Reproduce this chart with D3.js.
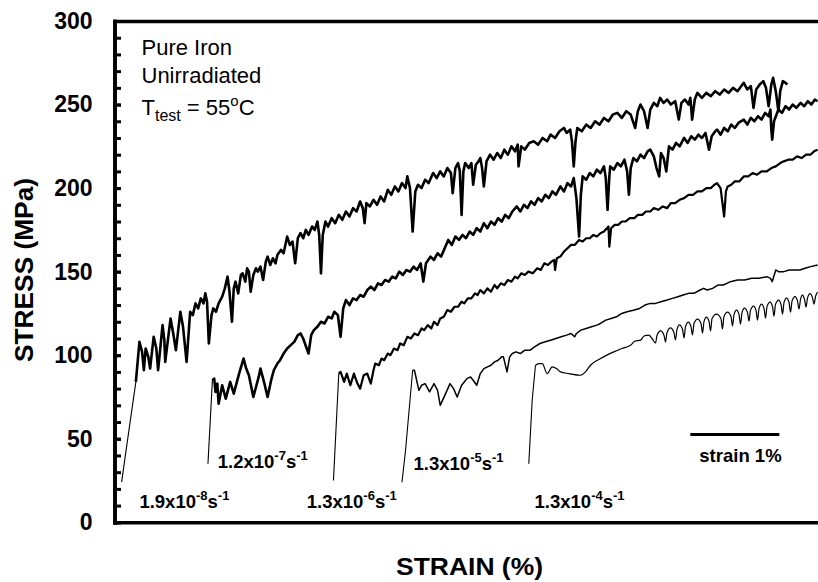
<!DOCTYPE html>
<html>
<head>
<meta charset="utf-8">
<script src="https://cdn.jsdelivr.net/npm/d3@7"></script>
<style>
  body { margin: 0; background: #fff; }
  svg { display: block; font-family: "Liberation Sans", Arial, sans-serif; }
</style>
</head>
<body>
<svg id="chart" width="818" height="582"></svg>
<script>
// stress-strain curves of pure iron, one per strain rate (strain %, MPa)
// curves are shifted along strain so they do not overlap

const rate19e8 = [
  [0.08,24],[0.13,43],[0.24,84],[0.28,108],[0.31,102],[0.33,91],[0.35,104],[0.38,99],[0.40,92],
  [0.44,111],[0.47,104],[0.49,91],[0.54,118],[0.56,109],[0.57,96],[0.63,122],[0.66,113],[0.69,103],
  [0.74,126],[0.77,117],[0.81,96],[0.85,126],[0.88,124],[0.91,131],[0.94,128],[0.97,134],[1.00,131],
  [1.02,137],[1.04,132],[1.06,107],[1.09,124],[1.11,128],[1.14,126],[1.17,131],[1.21,135],[1.24,140],
  [1.27,147],[1.29,139],[1.32,120],[1.34,140],[1.36,144],[1.39,137],[1.42,148],[1.44,149],[1.47,144],
  [1.49,152],[1.51,150],[1.53,138],[1.56,148],[1.59,152],[1.61,150],[1.64,153],[1.67,145],[1.70,156],
  [1.72,159],[1.75,154],[1.78,158],[1.81,155],[1.83,160],[1.87,163],[1.90,161],[1.94,171],[1.97,166],
  [2.00,168],[2.03,155],[2.06,170],[2.09,173],[2.12,170],[2.15,175],[2.18,172],[2.22,177],[2.25,175],
  [2.28,180],[2.30,172],[2.32,149],[2.34,172],[2.37,180],[2.40,177],[2.44,182],[2.48,179],[2.52,184],
  [2.56,181],[2.60,186],[2.64,183],[2.68,188],[2.72,186],[2.76,192],[2.79,188],[2.81,179],[2.83,191],
  [2.87,189],[2.91,193],[2.95,190],[2.99,195],[3.03,192],[3.07,199],[3.11,196],[3.15,201],[3.19,198],
  [3.23,203],[3.27,200],[3.29,207],[3.32,200],[3.35,174],[3.38,198],[3.41,202],[3.45,200],[3.49,205],
  [3.53,203],[3.58,209],[3.62,206],[3.66,210],[3.70,207],[3.74,212],[3.78,209],[3.80,197],[3.83,212],
  [3.86,215],[3.88,210],[3.90,184],[3.92,210],[3.94,215],[3.98,212],[4.01,215],[4.03,202],[4.06,214],
  [4.09,216],[4.11,218],[4.13,212],[4.15,201],[4.18,216],[4.22,220],[4.26,217],[4.30,221],[4.34,218],
  [4.38,223],[4.42,220],[4.46,225],[4.50,222],[4.53,226],[4.54,213],[4.57,225],[4.61,223],[4.66,227],
  [4.71,228],[4.76,226],[4.81,230],[4.86,228],[4.90,232],[4.95,230],[5.00,234],[5.05,236],[5.08,233],
  [5.12,235],[5.14,228],[5.16,213],[5.18,228],[5.20,236],[5.25,234],[5.30,238],[5.35,236],[5.40,240],
  [5.45,238],[5.50,242],[5.55,240],[5.60,244],[5.65,245],[5.70,242],[5.75,246],[5.80,244],[5.85,236],
  [5.88,246],[5.91,250],[5.95,246],[5.99,236],[6.02,247],[6.06,251],[6.10,249],[6.13,254],[6.17,251],
  [6.21,253],[6.25,250],[6.30,252],[6.34,241],[6.37,251],[6.41,253],[6.45,250],[6.47,254],[6.49,241],
  [6.52,253],[6.55,257],[6.60,254],[6.65,257],[6.70,255],[6.75,258],[6.80,256],[6.85,259],[6.90,257],
  [6.95,260],[7.00,258],[7.07,263],[7.11,259],[7.15,261],[7.18,248],[7.21,259],[7.25,262],[7.29,264],
  [7.32,260],[7.35,249],[7.38,262],[7.40,266],[7.43,258],[7.46,246],[7.48,258],[7.51,264],[7.54,263],
  [7.56,262]
];

const rate12e7 = [
  [1.05,35],[1.10,85],[1.12,86],[1.135,78],[1.155,83],[1.17,71],[1.21,82],[1.25,74],[1.30,84],[1.34,77],
  [1.40,89],[1.45,98],[1.48,92],[1.51,88],[1.56,75],[1.62,87],[1.64,92],[1.68,84],[1.72,75],[1.76,85],
  [1.79,91],[1.83,95],[1.86,97],[1.90,101],[1.94,104],[1.98,106],[2.02,108],[2.06,112],[2.09,113],
  [2.12,110],[2.18,101],[2.21,112],[2.24,115],[2.28,117],[2.32,120],[2.36,119],[2.40,123],[2.44,122],
  [2.47,126],[2.51,124],[2.54,111],[2.57,128],[2.60,133],[2.64,130],[2.68,134],[2.72,133],[2.76,136],
  [2.80,135],[2.84,139],[2.88,141],[2.92,139],[2.96,143],[3.00,142],[3.04,145],[3.08,144],[3.12,147],
  [3.16,146],[3.20,150],[3.24,148],[3.28,151],[3.32,150],[3.36,153],[3.40,151],[3.44,155],[3.47,144],
  [3.50,155],[3.55,159],[3.59,157],[3.63,161],[3.67,159],[3.71,164],[3.75,169],[3.79,166],[3.83,171],
  [3.87,169],[3.91,172],[3.95,170],[3.99,174],[4.03,172],[4.07,176],[4.11,174],[4.15,179],[4.19,176],
  [4.23,180],[4.27,178],[4.31,182],[4.35,180],[4.39,184],[4.43,182],[4.47,186],[4.52,189],[4.56,186],
  [4.60,190],[4.64,188],[4.68,192],[4.72,190],[4.76,194],[4.80,192],[4.84,196],[4.88,194],[4.92,198],
  [4.96,196],[5.01,201],[5.05,198],[5.09,203],[5.13,201],[5.16,206],[5.19,194],[5.22,171],[5.24,196],
  [5.26,207],[5.30,205],[5.34,209],[5.38,207],[5.42,211],[5.46,209],[5.50,213],[5.52,206],[5.54,187],
  [5.56,207],[5.57,213],[5.61,211],[5.65,215],[5.69,213],[5.73,217],[5.76,210],[5.78,196],[5.80,212],
  [5.83,218],[5.87,216],[5.91,220],[5.95,218],[5.99,222],[6.02,223],[6.06,219],[6.09,212],[6.12,207],
  [6.14,221],[6.17,218],[6.20,210],[6.23,225],[6.27,223],[6.31,227],[6.35,225],[6.40,230],[6.44,227],
  [6.48,231],[6.52,229],[6.56,232],[6.60,230],[6.64,233],[6.68,223],[6.71,231],[6.75,234],[6.77,235],
  [6.81,232],[6.85,236],[6.89,234],[6.93,238],[6.97,236],[7.01,239],[7.07,241],[7.11,238],[7.15,242],
  [7.19,240],[7.23,243],[7.27,241],[7.31,245],[7.35,243],[7.37,247],[7.38,235],[7.39,229],[7.41,240],
  [7.46,247],[7.50,245],[7.54,249],[7.58,247],[7.62,250],[7.66,248],[7.71,251],[7.75,249],[7.79,252],
  [7.83,250],[7.87,253],[7.90,252]
];

const rate13e6 = [
  [2.46,25],[2.52,89],[2.54,90],[2.58,84],[2.61,89],[2.65,82],[2.69,89],[2.73,83],[2.76,80],[2.80,88],
  [2.84,89],[2.88,83],[2.91,91],[2.93,95],[2.97,94],[3.00,98],[3.03,97],[3.07,101],[3.10,100],[3.14,104],
  [3.18,103],[3.21,107],[3.25,106],[3.29,111],[3.33,110],[3.37,113],[3.41,112],[3.45,116],[3.48,115],
  [3.52,118],[3.56,116],[3.59,120],[3.63,118],[3.66,122],[3.70,123],[3.74,127],[3.78,126],[3.82,129],
  [3.86,129],[3.90,132],[3.93,131],[3.97,134],[4.01,134],[4.05,137],[4.08,136],[4.11,139],[4.15,137],
  [4.19,140],[4.23,138],[4.27,142],[4.30,140],[4.34,143],[4.38,142],[4.42,145],[4.46,144],[4.50,147],
  [4.53,146],[4.57,149],[4.61,148],[4.65,150],[4.70,149],[4.75,152],[4.79,151],[4.83,155],[4.87,154],
  [4.91,156],[4.94,157],[4.95,151],[4.97,158],[5.01,159],[5.05,162],[5.09,164],[5.13,166],[5.17,166],
  [5.22,169],[5.26,168],[5.30,170],[5.34,170],[5.38,172],[5.42,171],[5.46,173],[5.50,174],[5.55,177],
  [5.56,165],[5.58,176],[5.62,178],[5.66,178],[5.70,180],[5.74,180],[5.79,182],[5.84,182],[5.88,184],
  [5.93,184],[5.97,186],[6.02,186],[6.06,188],[6.11,187],[6.16,189],[6.21,188],[6.25,191],[6.30,191],
  [6.35,193],[6.40,194],[6.45,196],[6.50,196],[6.55,198],[6.60,198],[6.65,200],[6.70,200],[6.74,202],
  [6.77,203],[6.81,200],[6.85,183],[6.87,198],[6.89,201],[6.93,202],[6.97,204],[7.02,204],[7.07,207],
  [7.12,207],[7.17,209],[7.22,208],[7.27,210],[7.33,210],[7.38,212],[7.43,213],[7.48,215],[7.52,216],
  [7.57,217],[7.62,217],[7.67,219],[7.72,218],[7.77,220],[7.82,220],[7.86,222],[7.90,223]
];

const rate13e5 = [
  [3.23,24],[3.27,43],[3.35,91],[3.37,91],[3.42,79],[3.45,82],[3.49,83],[3.54,78],[3.59,83],[3.63,79],
  [3.66,70],[3.72,77],[3.77,83],[3.81,80],[3.85,75],[3.90,82],[3.93,84],[3.96,86],[4.00,87],[4.03,85],
  [4.07,82],[4.11,89],[4.15,92],[4.19,93],[4.23,94],[4.27,96],[4.31,97],[4.35,99],[4.37,99],[4.41,90],
  [4.44,99],[4.47,101],[4.51,102],[4.56,101],[4.61,103],[4.67,103],[4.72,105],[4.78,107],[4.84,108],
  [4.90,109],[4.96,110],[5.02,111],[5.08,112],[5.13,113],[5.17,111],[5.19,113],[5.24,115],[5.30,116],
  [5.36,117],[5.42,118],[5.46,119],[5.52,121],[5.58,122],[5.64,123],[5.70,125],[5.76,126],[5.84,127],
  [5.90,128],[5.96,130],[6.02,131],[6.08,131],[6.14,132],[6.21,133],[6.27,134],[6.33,135],[6.39,136],
  [6.45,137],[6.51,137],[6.58,139],[6.62,140],[6.66,139],[6.72,140],[6.78,142],[6.84,142],[6.88,143],
  [6.92,144],[7.00,145],[7.08,145],[7.16,146],[7.24,146],[7.33,147],[7.37,146],[7.39,144],[7.43,151],
  [7.46,150],[7.52,150],[7.58,151],[7.64,151],[7.70,151],[7.76,152],[7.82,153],[7.90,154]
];

const rate13e4 = [
  [4.655,35],[4.693,73],[4.730,94],[4.767,95],[4.806,95],[4.862,89],[4.918,93],[4.966,92],[5.011,90],
  [5.105,89],[5.236,88],[5.292,90],[5.348,94],[5.461,98],[5.610,102],[5.700,104],[5.798,106],[5.850,108.5],
  [5.910,109],[5.950,111.5],[6.003,112],[6.040,110],
  [6.079,107.3],[6.096,112],[6.135,114.5],[6.174,112],
  [6.191,107.9],[6.208,113.5],[6.247,116.3],[6.286,113.5],
  [6.303,109.1],[6.320,115.5],[6.348,118.1],[6.382,115.5],
  [6.399,110.3],[6.416,117.2],[6.449,119.8],[6.477,117.2],
  [6.494,112.1],[6.511,119],[6.551,121.6],[6.590,119],
  [6.607,113.3],[6.624,120.2],[6.652,122.8],[6.680,120.2],
  [6.697,114.5],[6.714,122],[6.764,124.6],[6.814,122],
  [6.831,115.7],[6.848,123.2],[6.888,125.8],[6.927,123.2],
  [6.944,117.5],[6.961,124.4],[6.989,127.0],[7.017,124.4],
  [7.034,118.6],[7.051,125.6],[7.079,128.2],[7.112,125.6],
  [7.129,120.4],[7.146,126.8],[7.180,129.4],[7.208,126.8],
  [7.225,121.0],[7.242,128],[7.270,130.6],[7.298,128],
  [7.315,122.2],[7.332,129.2],[7.365,131.8],[7.393,129.2],
  [7.410,123.4],[7.427,130.4],[7.461,133.0],[7.489,130.4],
  [7.506,124.6],[7.523,131.6],[7.551,134.2],[7.579,131.6],
  [7.596,125.8],[7.613,132.5],[7.646,135.1],[7.674,132.5],
  [7.691,127.6],[7.708,133.4],[7.730,136.0],[7.753,133.4],
  [7.770,128.8],[7.787,134.3],[7.815,136.9],[7.843,134.3],
  [7.860,130.6],[7.877,135.2],[7.899,137.8]
];

// strain-rate labels: base, exponent, anchor point (strain %, MPa)
const rateLabels = [
  { base: "1.9x10", exp: "-8", at: [0.28, 8.4] },
  { base: "1.2x10", exp: "-7", at: [1.16, 32.4] },
  { base: "1.3x10", exp: "-6", at: [2.16, 8.6] },
  { base: "1.3x10", exp: "-5", at: [3.36, 31.2] },
  { base: "1.3x10", exp: "-4", at: [4.72, 8.6] }
];

// the slow-rate records are dense noise bands, so they get a heavier pen;
// `rise` = number of points on the thin elastic loading line
const curves = [
  { data: rate19e8, w: 2.6, rise: 3 },
  { data: rate12e7, w: 2.6, rise: 2 },
  { data: rate13e6, w: 2.2, rise: 2 },
  { data: rate13e5, w: 1.5, rise: 3 },
  { data: rate13e4, w: 1.2, rise: 3, smooth: true }
];

const yMajor = [0, 50, 100, 150, 200, 250, 300];
const yMinor = d3.range(0, 301, 10);
const scaleBar = [6.47, 7.47];   // 1 % strain marker

const svg = d3.select("#chart");
const x = d3.scaleLinear().domain([0, 8]).range([114.5, 826.5]);
const y = d3.scaleLinear().domain([0, 300]).range([522.3, 21]);

// frame: top and bottom lines, left axis with inward ticks
svg.append("g").attr("transform", `translate(0,${y(300)})`)
  .call(d3.axisTop(x).tickValues([]).tickSizeOuter(0));
svg.append("g").attr("transform", `translate(0,${y(0)})`)
  .call(d3.axisBottom(x).tickValues([]).tickSizeOuter(0));

svg.append("g").attr("transform", `translate(${x(0)},0)`)
  .call(d3.axisLeft(y).tickValues(yMinor).tickSize(-6.5).tickSizeOuter(0).tickFormat(""));
const yAx = svg.append("g").attr("transform", `translate(${x(0)},0)`)
  .call(d3.axisLeft(y).tickValues(yMajor).tickSize(-6.5).tickSizeOuter(0).tickPadding(22));

svg.selectAll(".domain").attr("stroke", "#000").attr("stroke-width", 3.6).attr("stroke-linecap", "square");
svg.selectAll(".tick line").attr("stroke", "#000").attr("stroke-width", 3);
yAx.selectAll(".tick text")
  .attr("fill", "#000").attr("font-size", 23).attr("font-weight", "bold")
  .attr("font-family", "Liberation Sans, Arial, sans-serif");

// curves: thin loading line, then the flow part
const line = d3.line().x(d => x(d[0])).y(d => y(d[1]));
const smoothLine = d3.line().x(d => x(d[0])).y(d => y(d[1])).curve(d3.curveMonotoneX);

const gCurves = svg.append("g").attr("fill", "none").attr("stroke", "#000").attr("stroke-linejoin", "round");
gCurves.selectAll("path.rise").data(curves).join("path")
  .attr("class", "rise")
  .attr("stroke-width", 1.1)
  .attr("d", d => line(d.data.slice(0, d.rise)));
gCurves.selectAll("path.flow").data(curves).join("path")
  .attr("class", "flow")
  .attr("stroke-width", d => d.w)
  .attr("d", d => (d.smooth ? smoothLine : line)(d.data.slice(d.rise - 1)));

// rate labels with superscripts
const lab = svg.append("g").selectAll("text").data(rateLabels).join("text")
  .attr("x", d => x(d.at[0]))
  .attr("y", d => y(d.at[1]))
  .attr("font-weight", "bold")
  .attr("font-size", 18.5);
lab.append("tspan").text(d => d.base);
lab.append("tspan").attr("font-size", 13).attr("dy", -8).text(d => d.exp);
lab.append("tspan").attr("dy", 8).text("s");
lab.append("tspan").attr("font-size", 13).attr("dy", -8).text("-1");

// 1 % strain scale bar
svg.append("line")
  .attr("x1", x(scaleBar[0])).attr("x2", x(scaleBar[1]))
  .attr("y1", y(52.5)).attr("y2", y(52.5))
  .attr("stroke", "#000").attr("stroke-width", 3);
svg.append("text")
  .attr("x", x(scaleBar[0]) + 9).attr("y", y(36))
  .attr("font-weight", "bold").attr("font-size", 18.5)
  .text("strain 1%");

// material note
const note = svg.append("g").attr("font-size", 22);
note.append("text").attr("x", 141.5).attr("y", 55).text("Pure Iron");
note.append("text").attr("x", 141.5).attr("y", 83).text("Unirradiated");
const tt = note.append("text").attr("x", 141.5).attr("y", 115);
tt.append("tspan").text("T");
tt.append("tspan").attr("font-size", 16).attr("dy", 6).text("test");
tt.append("tspan").attr("dy", -6).text(" = 55");
tt.append("tspan").attr("font-size", 15).attr("dy", -9).text("o");
tt.append("tspan").attr("dy", 9).text("C");

// axis titles
svg.append("text")
  .attr("x", 469.5).attr("y", 575)
  .attr("text-anchor", "middle").attr("font-weight", "bold").attr("font-size", 24)
  .attr("textLength", 147).attr("lengthAdjust", "spacingAndGlyphs")
  .text("STRAIN (%)");
svg.append("text")
  .attr("transform", "translate(33,270) rotate(-90)")
  .attr("text-anchor", "middle").attr("font-weight", "bold").attr("font-size", 25)
  .attr("textLength", 184).attr("lengthAdjust", "spacingAndGlyphs")
  .text("STRESS (MPa)");
</script>
</body>
</html>
